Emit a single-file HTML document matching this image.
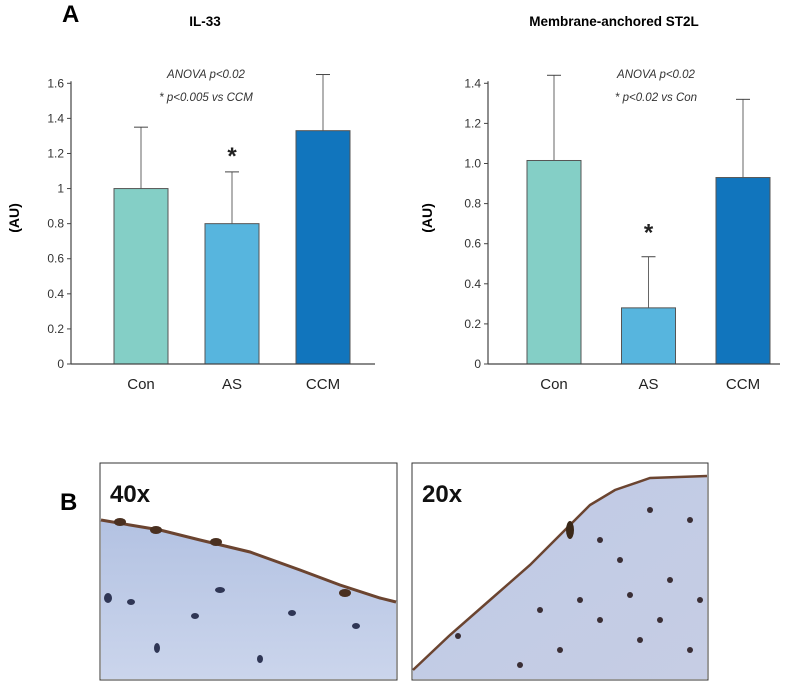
<!DOCTYPE html>
<html><head><meta charset="utf-8"><style>
body{margin:0;background:#fff;font-family:"Liberation Sans",sans-serif}
svg{display:block}
</style></head><body>
<svg id="fig" width="800" height="684" viewBox="0 0 800 684">
<defs>
<linearGradient id="tis1" x1="0" y1="0" x2="0" y2="1"><stop offset="0" stop-color="#b3c2e2"/><stop offset="1" stop-color="#cbd5ec"/></linearGradient>
<linearGradient id="tis2" x1="0" y1="0" x2="1" y2="1"><stop offset="0" stop-color="#bfcae6"/><stop offset="1" stop-color="#c6cde4"/></linearGradient>
</defs>
<text x="62" y="22" font-size="24" font-weight="bold">A</text>
<text x="60" y="510" font-size="24" font-weight="bold">B</text>
<g id="c1"></g>
<g id="c2"></g>

<g>
<rect x="100" y="463" width="297" height="217" fill="#fff" stroke="#333" stroke-width="1"/>
<polygon points="101,520 130,525 160,530 200,540 250,552 300,570 340,585 380,598 396,602 396,679 101,679" fill="url(#tis1)"/>
<polyline points="101,520 130,525 160,530 200,540 250,552 300,570 340,585 380,598 396,602" fill="none" stroke="#6b4430" stroke-width="3"/>
<ellipse cx="120" cy="522" rx="6" ry="4" fill="#4a3020"/><ellipse cx="156" cy="530" rx="6" ry="4" fill="#4a3020"/>
<ellipse cx="216" cy="542" rx="6" ry="4" fill="#4a3020"/><ellipse cx="345" cy="593" rx="6" ry="4" fill="#4a3020"/>
<ellipse cx="108" cy="598" rx="4" ry="5" fill="#2f3655"/><ellipse cx="131" cy="602" rx="4" ry="3" fill="#2f3655"/>
<ellipse cx="220" cy="590" rx="5" ry="3" fill="#2f3655"/><ellipse cx="195" cy="616" rx="4" ry="3" fill="#2f3655"/>
<ellipse cx="292" cy="613" rx="4" ry="3" fill="#2f3655"/><ellipse cx="157" cy="648" rx="3" ry="5" fill="#2f3655"/>
<ellipse cx="260" cy="659" rx="3" ry="4" fill="#2f3655"/><ellipse cx="356" cy="626" rx="4" ry="3" fill="#2f3655"/>
<text x="110" y="502" font-size="24" font-weight="bold" fill="#111">40x</text>
</g>
<g>
<rect x="412" y="463" width="296" height="217" fill="#fff" stroke="#333" stroke-width="1"/>
<polygon points="413,679 413,670 450,635 490,600 530,565 565,530 590,505 615,490 650,478 707,476 707,679" fill="url(#tis2)"/>
<polyline points="413,670 450,635 490,600 530,565 565,530 590,505 615,490 650,478 707,476" fill="none" stroke="#6b4430" stroke-width="2.5"/>
<ellipse cx="570" cy="530" rx="4" ry="9" fill="#3a2818"/>
<g fill="#3a2e35">
<circle cx="458" cy="636" r="3"/><circle cx="600" cy="540" r="3"/><circle cx="650" cy="510" r="3"/><circle cx="690" cy="520" r="3"/>
<circle cx="620" cy="560" r="3"/><circle cx="670" cy="580" r="3"/><circle cx="700" cy="600" r="3"/><circle cx="600" cy="620" r="3"/>
<circle cx="640" cy="640" r="3"/><circle cx="560" cy="650" r="3"/><circle cx="520" cy="665" r="3"/><circle cx="690" cy="650" r="3"/>
<circle cx="580" cy="600" r="3"/><circle cx="660" cy="620" r="3"/><circle cx="540" cy="610" r="3"/><circle cx="630" cy="595" r="3"/>
</g>
<text x="422" y="502" font-size="24" font-weight="bold" fill="#111">20x</text>
</g>
</svg>
<script>
const categories = ["Con", "AS", "CCM"];
const il33Values = [1.0, 0.8, 1.33];
const il33Errors = [0.35, 0.295, 0.32];
const il33Ticks = ["0","0.2","0.4","0.6","0.8","1","1.2","1.4","1.6"];
const st2lValues = [1.015, 0.28, 0.93];
const st2lErrors = [0.425, 0.255, 0.39];
const st2lTicks = ["0","0.2","0.4","0.6","0.8","1.0","1.2","1.4"];
const colors = ["#84cfc6", "#57b5de", "#1175bd"];
const NS = "http://www.w3.org/2000/svg";
function mk(parent, tag, attrs, text) {
  const e = document.createElementNS(NS, tag);
  for (const k in attrs) e.setAttribute(k, attrs[k]);
  if (text !== undefined) e.textContent = text;
  parent.appendChild(e);
  return e;
}
function drawChart(gid, cfg, values, errors, ticks) {
  const g = document.getElementById(gid);
  const maxV = parseFloat(ticks[ticks.length - 1]);
  const y = v => cfg.y0 - (v / maxV) * (cfg.y0 - cfg.yTop);
  const bx = i => cfg.barX0 + i * cfg.step;
  let t = mk(g, "text", {x: cfg.titleX, y: 26, "font-size": 13.5, "font-weight": "bold", "text-anchor": "middle"}, cfg.title);
  
  
  t = mk(g, "text", {x: cfg.ylabX, y: 218, "font-size": 14, "font-weight": "bold", "text-anchor": "middle", transform: `rotate(-90 ${cfg.ylabX} 218)`}, "(AU)");
  
  
  for (let i = 0; i < values.length; i++) {
    const x = bx(i), cx = x + cfg.bw / 2;
    const top = y(values[i] + errors[i]);
    let l = mk(g, "line", {x1: cx, y1: y(values[i]), x2: cx, y2: top, stroke: "#666", "stroke-width": 1});
    
    
    l = mk(g, "line", {x1: cx - 7, y1: top, x2: cx + 7, y2: top, stroke: "#444", "stroke-width": 1});
    
    
    const r = mk(g, "rect", {x: x, y: y(values[i]), width: cfg.bw, height: cfg.y0 - y(values[i]), fill: colors[i], stroke: "#555", "stroke-width": 1});
    
    
    const lb = mk(g, "text", {x: cx, y: cfg.y0 + 25, "font-size": 15, "text-anchor": "middle", fill: "#222"}, categories[i]);
    
    
  }
  let a = mk(g, "line", {x1: cfg.ax, y1: cfg.yTop - 2, x2: cfg.ax, y2: cfg.y0, stroke: "#444", "stroke-width": 1.2});
  
  
  a = mk(g, "line", {x1: cfg.ax, y1: cfg.y0, x2: cfg.axEnd, y2: cfg.y0, stroke: "#444", "stroke-width": 1.2});
  
  
  ticks.forEach(tk => {
    const yy = y(parseFloat(tk));
    const tl = mk(g, "line", {x1: cfg.ax - 4, y1: yy, x2: cfg.ax, y2: yy, stroke: "#444"});
    
    
    const tt = mk(g, "text", {x: cfg.ax - 7, y: yy + 4, "font-size": 12, "text-anchor": "end", fill: "#333"}, tk);
    
    
  });
  let n = mk(g, "text", {x: cfg.noteX, y: 78, "font-size": 11.5, "font-style": "italic", "text-anchor": "middle", fill: "#333"}, "ANOVA p<0.02");
  
  
  n = mk(g, "text", {x: cfg.noteX, y: 101, "font-size": 11.5, "font-style": "italic", "text-anchor": "middle", fill: "#333"}, cfg.note2);
  
  
  const s = mk(g, "text", {x: bx(1) + cfg.bw / 2, y: y(values[1] + errors[1]) - cfg.starGap, "font-size": 24, "font-weight": "bold", "text-anchor": "middle", fill: "#222"}, "*");
  
  
}
drawChart("c1", {title: "IL-33", titleX: 205, ylabX: 19, ax: 71, axEnd: 375, y0: 364, yTop: 83.3, barX0: 114, step: 91, bw: 54, noteX: 206, note2: "* p<0.005 vs CCM", starGap: 8}, il33Values, il33Errors, il33Ticks);
drawChart("c2", {title: "Membrane-anchored ST2L", titleX: 614, ylabX: 432, ax: 488, axEnd: 780, y0: 364, yTop: 83.3, barX0: 527, step: 94.5, bw: 54, noteX: 656, note2: "* p<0.02 vs Con", starGap: 16}, st2lValues, st2lErrors, st2lTicks);
</script>
</body></html>
